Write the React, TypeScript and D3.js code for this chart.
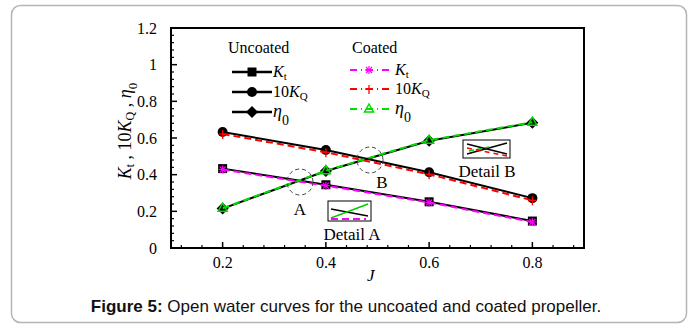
import * as d3 from "d3";

// open water data
const J = [0.2, 0.4, 0.6, 0.8];
const ktUncoated = [0.433, 0.345, 0.252, 0.147];
const kqUncoated = [0.633, 0.535, 0.413, 0.272];
const etaUncoated = [0.215, 0.42, 0.585, 0.683];
const ktCoated = [0.428, 0.34, 0.248, 0.142];
const kqCoated = [0.622, 0.522, 0.402, 0.26];
const etaCoated = [0.217, 0.422, 0.588, 0.686];

const xTicks = [0.2, 0.4, 0.6, 0.8];
const yTicks = [0, 0.2, 0.4, 0.6, 0.8, 1, 1.2];

const serif = "'Liberation Serif', 'DejaVu Serif', serif";
const sans = "'Liberation Sans', Arial, sans-serif";

const x = d3.scaleLinear().domain([0.1, 0.9]).range([171, 584]);
const y = d3.scaleLinear().domain([0, 1.2]).range([248, 28]);

type Pt = [number, number];
const line = d3
    .line<Pt>()
    .x((d) => x(d[0]))
    .y((d) => y(d[1]));

const zip = (vals: number[]): Pt[] => J.map((j, i) => [j, vals[i]]);

function Marker({ kind, cx, cy }: { kind: string; cx: number; cy: number }) {
    if (kind === "square")
        return <rect x={cx - 4.5} y={cy - 4.5} width={9} height={9} fill="#000" />;
    if (kind === "circle") return <circle cx={cx} cy={cy} r={5} fill="#000" />;
    if (kind === "diamond")
        return (
            <path
                d={`M${cx},${cy - 6}L${cx + 6},${cy}L${cx},${cy + 6}L${cx - 6},${cy}Z`}
                fill="#000"
            />
        );
    if (kind === "star")
        return (
            <g stroke="#ff00ff" strokeWidth={1.2}>
                <line x1={cx - 4} y1={cy} x2={cx + 4} y2={cy} />
                <line x1={cx} y1={cy - 4} x2={cx} y2={cy + 4} />
                <line x1={cx - 3} y1={cy - 3} x2={cx + 3} y2={cy + 3} />
                <line x1={cx - 3} y1={cy + 3} x2={cx + 3} y2={cy - 3} />
            </g>
        );
    if (kind === "plus")
        return (
            <g stroke="#ff0000" strokeWidth={1.3}>
                <line x1={cx - 4} y1={cy} x2={cx + 4} y2={cy} />
                <line x1={cx} y1={cy - 4} x2={cx} y2={cy + 5} />
            </g>
        );
    // triangle
    return (
        <path
            d={`M${cx},${cy - 5}L${cx + 4.5},${cy + 3}L${cx - 4.5},${cy + 3}Z`}
            fill="none"
            stroke="#00dd00"
            strokeWidth={1.5}
        />
    );
}

const series = [
    { vals: ktUncoated, color: "#000", dash: "", marker: "square", width: 2 },
    { vals: kqUncoated, color: "#000", dash: "", marker: "circle", width: 2 },
    { vals: etaUncoated, color: "#000", dash: "", marker: "diamond", width: 2 },
    { vals: ktCoated, color: "#ff00ff", dash: "7,4", marker: "star", width: 2 },
    { vals: kqCoated, color: "#ff0000", dash: "7,4", marker: "plus", width: 2 },
    { vals: etaCoated, color: "#00dd00", dash: "7,4", marker: "tri", width: 2 },
];

const Kt = () => (
    <>
        <tspan fontStyle="italic">K</tspan>
        <tspan fontSize="11" dy="3">t</tspan>
    </>
);
const Kq = () => (
    <>
        10<tspan fontStyle="italic">K</tspan>
        <tspan fontSize="11" dy="3">Q</tspan>
    </>
);
const Eta = () => (
    <>
        <tspan fontStyle="italic" fontSize="18">η</tspan>
        <tspan fontSize="14" dy="8">0</tspan>
    </>
);

export default function App() {
    const minorX = d3.range(0.12, 0.9, 0.04).filter((v) => Math.abs(v * 5 - Math.round(v * 5)) > 0.01);
    const minorY = d3.range(0.04, 1.2, 0.04).filter((v) => Math.abs(v * 5 - Math.round(v * 5)) > 0.01);

    const legU = [
        { label: <Kt />, marker: "square", y: 72 },
        { label: <Kq />, marker: "circle", y: 92 },
        { label: <Eta />, marker: "diamond", y: 112 },
    ];
    const legC = [
        { label: <Kt />, marker: "star", color: "#ff00ff", y: 70 },
        { label: <Kq />, marker: "plus", color: "#ff0000", y: 89 },
        { label: <Eta />, marker: "tri", color: "#00dd00", y: 109 },
    ];

    return (
        <div style={{ position: "absolute", left: 0, top: 0 }}>
            <svg width={693} height={324} style={{ display: "block", background: "#fff" }}>
                <rect x={11.5} y={5.5} width={675} height={317} rx={9} fill="#fff" stroke="#b5b5b5" strokeWidth={1.5} />

                {/* axes frame */}
                <rect x={171} y={28} width={413} height={220} fill="none" stroke="#000" strokeWidth={2} />
                {xTicks.map((t) => (
                    <g key={"x" + t}>
                        <line x1={x(t)} x2={x(t)} y1={248} y2={242} stroke="#000" strokeWidth={1.5} />
                        <text x={x(t)} y={268} textAnchor="middle" fontFamily={serif} fontSize={16}>
                            {t.toFixed(1)}
                        </text>
                    </g>
                ))}
                {minorX.map((t) => (
                    <line key={"mx" + t} x1={x(t)} x2={x(t)} y1={248} y2={245} stroke="#000" strokeWidth={1.2} />
                ))}
                {yTicks.map((t) => (
                    <g key={"y" + t}>
                        <line x1={171} x2={177} y1={y(t)} y2={y(t)} stroke="#000" strokeWidth={1.5} />
                        <text x={157} y={y(t) + 5.5} textAnchor="end" fontFamily={serif} fontSize={16}>
                            {t === 0 || t === 1 ? String(t) : t.toFixed(1)}
                        </text>
                    </g>
                ))}
                {minorY.map((t) => (
                    <line key={"my" + t} x1={171} x2={174} y1={y(t)} y2={y(t)} stroke="#000" strokeWidth={1.2} />
                ))}

                {/* axis titles */}
                <text x={367} y={281} fontFamily={serif} fontSize={17} fontStyle="italic">J</text>
                <text
                    transform="translate(131,131) rotate(-90)"
                    textAnchor="middle"
                    fontFamily={serif}
                    fontSize={18}
                >
                    <tspan fontStyle="italic">K</tspan>
                    <tspan fontSize="12" dy="3">t</tspan>
                    <tspan dy="-3"> , 10</tspan>
                    <tspan fontStyle="italic">K</tspan>
                    <tspan fontSize="12" dy="3">Q</tspan>
                    <tspan dy="-3"> , </tspan>
                    <tspan fontStyle="italic">η</tspan>
                    <tspan fontSize="13" dy="6">0</tspan>
                </text>

                {/* series */}
                {series.map((s, i) => (
                    <g key={i}>
                        <path
                            d={line(zip(s.vals)) || ""}
                            fill="none"
                            stroke={s.color}
                            strokeWidth={s.width}
                            strokeDasharray={s.dash}
                        />
                        {J.map((j, k) => (
                            <Marker key={k} kind={s.marker} cx={x(j)} cy={y(s.vals[k])} />
                        ))}
                    </g>
                ))}

                {/* annotations */}
                <circle cx={300} cy={182} r={13} fill="none" stroke="#444" strokeWidth={1} strokeDasharray="4,3" />
                <text x={300} y={215} textAnchor="middle" fontFamily={serif} fontSize={17}>A</text>
                <circle cx={370} cy={160} r={13} fill="none" stroke="#444" strokeWidth={1} strokeDasharray="4,3" />
                <text x={382} y={188} textAnchor="middle" fontFamily={serif} fontSize={17}>B</text>

                <g transform="translate(328,201)">
                    <rect width={43} height={20} fill="#fff" stroke="#000" strokeWidth={1} />
                    <line x1={3} y1={8} x2={40} y2={15} stroke="#000" strokeWidth={1.5} />
                    <line x1={3} y1={17} x2={40} y2={3} stroke="#00cc00" strokeWidth={1.5} />
                    <line x1={3} y1={18} x2={38} y2={18} stroke="#ff00ff" strokeWidth={2} strokeDasharray="7,4" />
                </g>
                <text x={352} y={240} textAnchor="middle" fontFamily={serif} fontSize={17}>Detail A</text>

                <g transform="translate(463,140)">
                    <rect width={47} height={18} fill="#fff" stroke="#000" strokeWidth={1} />
                    <line x1={4} y1={4} x2={44} y2={14} stroke="#000" strokeWidth={1.5} />
                    <line x1={4} y1={14} x2={44} y2={3} stroke="#000" strokeWidth={1.5} />
                    <line x1={6} y1={11} x2={26} y2={7} stroke="#00cc00" strokeWidth={1.5} strokeDasharray="5,3" />
                    <line x1={4} y1={8} x2={44} y2={16} stroke="#ff0000" strokeWidth={1.5} strokeDasharray="5,4" />
                </g>
                <text x={487} y={177} textAnchor="middle" fontFamily={serif} fontSize={17}>Detail B</text>

                {/* legends */}
                <text x={228} y={53} fontFamily={serif} fontSize={16}>Uncoated</text>
                {legU.map((l, i) => (
                    <g key={"lu" + i}>
                        <line x1={232} x2={272} y1={l.y} y2={l.y} stroke="#000" strokeWidth={2.5} />
                        <Marker kind={l.marker} cx={252} cy={l.y} />
                        <text x={273} y={l.y + 5} fontFamily={serif} fontSize={16}>{l.label}</text>
                    </g>
                ))}
                <text x={352} y={53} fontFamily={serif} fontSize={16}>Coated</text>
                {legC.map((l, i) => (
                    <g key={"lc" + i}>
                        <line x1={350} x2={391} y1={l.y} y2={l.y} stroke={l.color} strokeWidth={2} strokeDasharray="7,4,1,4" />
                        <Marker kind={l.marker} cx={369} cy={l.y} />
                        <text x={395} y={l.y + 5} fontFamily={serif} fontSize={16}>{l.label}</text>
                    </g>
                ))}

                {/* caption */}
                <text x={346} y={312} textAnchor="middle" fontFamily={sans} fontSize={17} fill="#111">
                    <tspan fontWeight="bold">Figure 5:</tspan> Open water curves for the uncoated and coated propeller.
                </text>
            </svg>
        </div>
    );
}
